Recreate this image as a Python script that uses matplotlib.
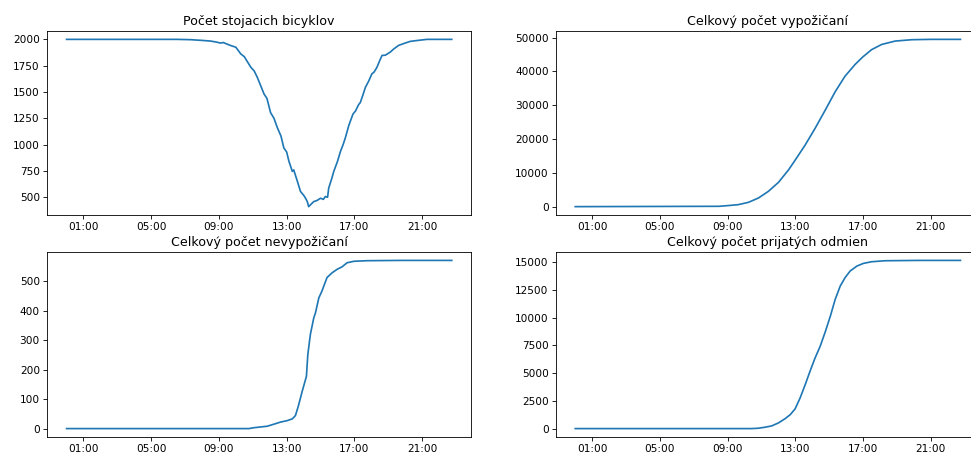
import matplotlib
matplotlib.use("Agg")
import matplotlib.pyplot as plt
import matplotlib.dates as mdates
import pandas as pd

BASE = "2021-06-01 "

# Počet stojacich bicyklov
t_stand = ["00:00", "06:30", "07:20", "08:00", "08:30", "08:50", "09:05", "09:15", "09:40",
           "10:00", "10:17", "10:30", "10:53", "11:05", "11:16", "11:40", "11:50", "12:03",
           "12:15", "12:27", "12:40", "12:50", "13:00", "13:08", "13:20", "13:25", "13:38",
           "13:49", "14:00", "14:07", "14:13", "14:18", "14:25", "14:36", "14:48", "15:00",
           "15:10", "15:17", "15:25", "15:29", "15:40", "15:47", "16:00", "16:11", "16:20",
           "16:28", "16:40", "16:46", "16:55", "17:04", "17:15", "17:21", "17:30", "17:39",
           "17:50", "18:02", "18:10", "18:20", "18:30", "18:38", "18:50", "19:07", "19:20",
           "19:37", "20:00", "20:18", "20:45", "21:17", "22:45"]
v_stand = [2000, 2000, 1997, 1990, 1984, 1975, 1965, 1970, 1943,
           1925, 1863, 1835, 1735, 1700, 1639, 1480, 1440, 1304,
           1250, 1161, 1080, 969, 930, 842, 746, 760, 651,
           555, 520, 491, 459, 411, 430, 459, 470, 491,
           480, 507, 500, 587, 680, 746, 840, 938, 1000,
           1065, 1180, 1225, 1290, 1320, 1380, 1400, 1470, 1544,
           1600, 1672, 1690, 1735, 1800, 1847, 1850, 1879, 1910,
           1943, 1965, 1981, 1990, 2000, 2000]

# Celkový počet vypožičaní
t_rent = ["00:00", "08:30", "09:00", "09:38", "10:14", "10:49", "11:24", "12:00", "12:36",
          "13:00", "13:35", "14:10", "14:46", "15:21", "15:56", "16:32", "16:59", "17:30",
          "18:06", "18:54", "19:53", "21:00", "22:45"]
v_rent = [0, 100, 300, 590, 1280, 2550, 4500, 7170, 10900,
          13850, 18270, 23180, 28580, 33980, 38600, 42100, 44300, 46450,
          48000, 49000, 49400, 49500, 49500]

# Celkový počet nevypožičaní
t_norent = ["00:00", "10:46", "11:04", "11:51", "12:15", "12:38", "13:02", "13:20", "13:31",
            "13:41", "13:55", "14:10", "14:15", "14:24", "14:36", "14:42", "14:54", "15:05",
            "15:23", "15:41", "15:59", "16:16", "16:34", "16:58", "17:44", "19:42", "22:45"]
v_norent = [0, 0, 3, 8, 15, 22, 27, 33, 44,
            75, 126, 177, 251, 319, 375, 392, 443, 466,
            512, 528, 540, 548, 562, 567, 569, 570, 570]

# Celkový počet prijatých odmien
t_reward = ["00:00", "10:24", "10:48", "11:12", "11:36", "12:00", "12:24", "12:42", "12:59",
            "13:17", "13:35", "13:52", "14:10", "14:28", "14:46", "15:04", "15:21", "15:39",
            "15:56", "16:14", "16:38", "17:01", "17:30", "18:18", "20:16", "22:45"]
v_reward = [0, 0, 30, 120, 240, 510, 900, 1260, 1770,
            2770, 3970, 5170, 6370, 7420, 8720, 10130, 11630, 12840,
            13590, 14190, 14640, 14880, 15030, 15120, 15150, 15150]

titles = ["Počet stojacich bicyklov", "Celkový počet vypožičaní",
          "Celkový počet nevypožičaní", "Celkový počet prijatých odmien"]
tick_hours = [1, 5, 9, 13, 17, 21]

series = [(t_stand, v_stand), (t_rent, v_rent), (t_norent, v_norent), (t_reward, v_reward)]

DPI = 76
W, H = 971, 457
fig = plt.figure(figsize=(W / DPI, H / DPI), dpi=DPI)
boxes = [
    (47.3, 31, 423.7, 184),
    (556, 31, 423.7, 184),
    (47.3, 252, 423.7, 185),
    (556, 252, 423.7, 185),
]
for (ts, vs), title, (x0, y0, w, h) in zip(series, titles, boxes):
    ax = fig.add_axes([x0 / W, 1 - (y0 + h) / H, w / W, h / H])
    times = pd.to_datetime([BASE + t for t in ts])
    ax.plot(times, vs, color="#1f77b4", linewidth=1.6)
    ax.set_title(title, fontsize=12)
    ax.xaxis.set_major_locator(mdates.HourLocator(byhour=tick_hours))
    ax.xaxis.set_major_formatter(mdates.DateFormatter("%H:%M"))
    ax.tick_params(labelsize=10)

fig.savefig("out.png", dpi=DPI)
